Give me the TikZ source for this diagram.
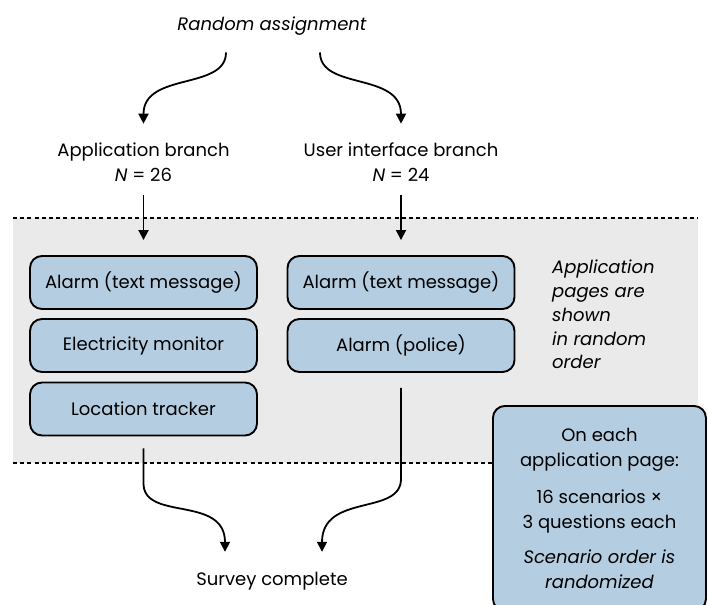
\documentclass[tikz,border=0pt]{standalone}
\usepackage{fontspec}
\setmainfont{Poppins}
\usetikzlibrary{arrows.meta}
\definecolor{boxblue}{RGB}{180,205,224}
\definecolor{bggray}{RGB}{234,234,234}
\begin{document}
\begin{tikzpicture}[x=1pt,y=-1pt,
  every node/.style={font=\fontsize{18}{25}\selectfont, inner sep=0pt},
  pagebox/.style={draw=black, line width=1.9pt, fill=boxblue, rounded corners=12pt,
    minimum width=227pt, minimum height=53pt, align=center},
  arr/.style={line width=1.8pt, -{Triangle[width=10pt,length=10pt]}},
  sepline/.style={line width=1.8pt, dash pattern=on 4pt off 3.2pt}]
\useasboundingbox (0,0) rectangle (708,604);
\fill[bggray] (13,218) rectangle (698,463);
\draw[sepline] (13,218) -- (698,218);
\draw[sepline] (13,463) -- (698,463);

\node (ra) at (272,26) {\itshape Random assignment};
\node[align=center] (ab) at (143.5,162.25) {Application branch\\\textit{N} = 26};
\node[align=center] (ub) at (401,162.25) {User interface branch\\\textit{N} = 24};

\node[pagebox] (l1) at (143.5,282.5) {Alarm (text message)};
\node[pagebox] (l2) at (143.5,345.5) {Electricity monitor};
\node[pagebox] (l3) at (143.5,409) {Location tracker};
\node[pagebox] (r1) at (401,282.5) {Alarm (text message)};
\node[pagebox] (r2) at (401,345.5) {Alarm (police)};

\node[align=left, anchor=west, font=\fontsize{18}{23.75}\selectfont\itshape] (note) at (552,314.5)
  {Application\\pages are\\shown\\in random\\order};

\node[pagebox, minimum width=213pt, minimum height=205pt, anchor=north west] (info) at (492,405)
  {On each\\application page:\\[12pt]16 scenarios ×\\3 questions each\\[10pt]\textit{Scenario order is}\\\textit{randomized}};

\node (sc) at (272,581) {Survey complete};

\draw[arr] ([xshift=-46pt,yshift=-17pt]ra.south) .. controls +(0,38) and +(0,-52) .. ([yshift=19pt]ab.north);
\draw[arr] ([xshift=48pt,yshift=-17pt]ra.south) .. controls +(0,38) and +(0,-52) .. ([yshift=19pt]ub.north);
\draw[arr] ([yshift=-13.5pt]ab.south) -- ([yshift=15pt]l1.north);
\draw[arr] ([yshift=-13.5pt]ub.south) -- ([yshift=15pt]r1.north);
\draw[arr] ([yshift=-12pt]l3.south) -- ++(0,35) .. controls +(0,38) and +(0,-57) .. ([xshift=-47pt,yshift=20pt]sc.north);
\draw[arr] ([yshift=-15pt]r2.south) -- ++(0,91) .. controls +(0,37) and +(0,-59) .. ([xshift=50pt,yshift=20pt]sc.north);
\end{tikzpicture}
\end{document}
